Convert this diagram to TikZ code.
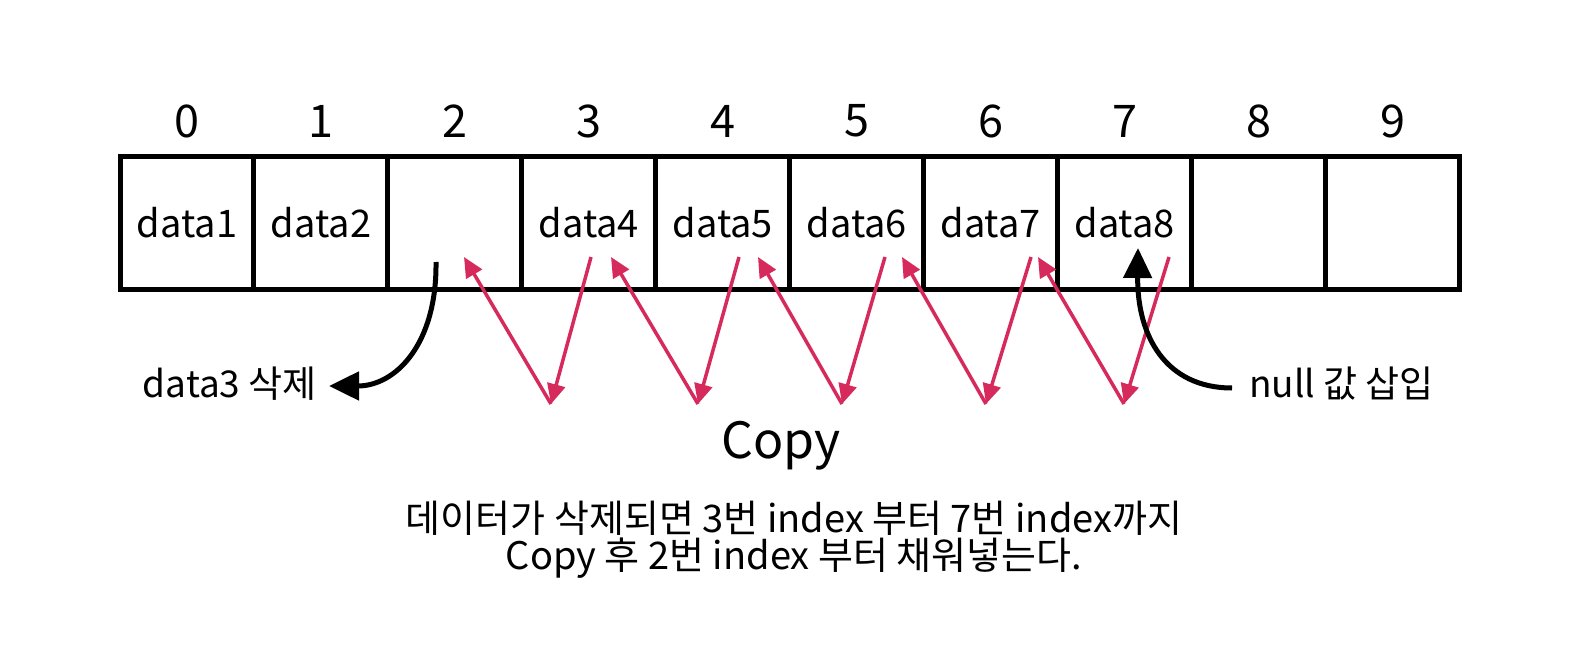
\documentclass[tikz,border=0pt]{standalone}
\usepackage{fontspec}
\setmainfont{Noto Sans CJK KR}
\usetikzlibrary{arrows.meta}

\begin{document}
\begin{tikzpicture}[
        x = 1pt,
        y = -1pt
    ]

        \definecolor{copyred}{RGB}{214,42,93}

        \tikzset{%
            arraycell/.style = {%
                rectangle,
                draw           = black,
                line width     = 5pt,
                minimum width  = 133.95pt,
                minimum height = 133pt,
                inner sep      = 0pt,
                font           = \fontsize{38}{40}\selectfont
            },
            indexlabel/.style = {%
                inner sep = 0pt,
                font      = \fontsize{45}{48}\selectfont
            },
            note/.style = {%
                inner sep = 0pt,
                font      = \fontsize{37}{40}\selectfont
            },
            copyarrow/.style = {%
                copyred,
                line width = 3.5pt,
                -{Triangle[length = 20pt, width = 18pt]}
            },
            bentarrow/.style = {%
                black,
                line width = 5pt,
                -{Triangle[length = 30pt, width = 28pt]}
            }
        }

        \newcommand{\cellwidth}{133.95}

        \useasboundingbox (0, 0) rectangle (1590, 655);

        \foreach \i/\txt in {0/data1, 1/data2, 2/, 3/data4, 4/data5, 5/data6, 6/data7, 7/data8, 8/, 9/} {
            \node[arraycell] (cell\i) at ({120 + \cellwidth*(\i + 0.5)}, 223) {\txt};
            \node[indexlabel] (idx\i) at ({120 + \cellwidth*(\i + 0.5)}, 121) {\i}; % Index number
        }

        \foreach \n/\sx/\bx/\tx in {1/591/551/464, 2/739/698/611, 3/885/842/758, 4/1031/986/902, 5/1169/1124/1038} {
            \coordinate (from\n) at (\sx, 257);
            \coordinate (low\n)  at (\bx, 404);
            \coordinate (to\n)   at (\tx, 257);
            \draw[copyarrow] (from\n) -- (low\n);
            \draw[copyarrow] (low\n) -- (to\n);
        }

        \node[note, anchor = east] (deltext) at (317, 384) {data3 삭제};
        \node[note, anchor = west] (instext) at (1249, 384) {null 값 삽입};

        \node[font = \fontsize{50}{54}\selectfont] (copytext) at (781, 446) {Copy};

        \node[
            align = center,
            font  = \fontsize{38}{37}\selectfont
        ] (summary) at (794, 540) {데이터가 삭제되면 3번 index 부터 7번 index까지\\Copy 후 2번 index 부터 채워넣는다.};

        % Deleted value leaves, null goes in
        \coordinate (delstart) at (436, 262);
        \coordinate (deltip)   at (329, 386);
        \draw[bentarrow] (delstart) .. controls (437, 345) and (395, 386) .. (deltip);

        \coordinate (insstart) at (1232, 388);
        \coordinate (instip)   at (1138, 248);
        \draw[bentarrow] (insstart) .. controls (1165, 388) and (1137, 335) .. (instip);

    \end{tikzpicture}
\end{document}
